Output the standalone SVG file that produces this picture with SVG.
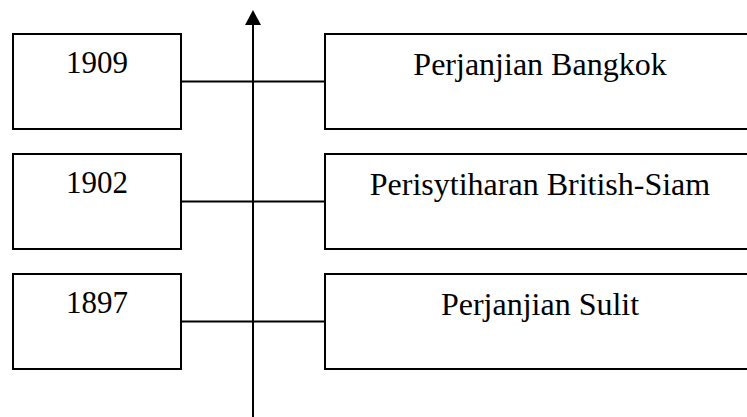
<svg xmlns="http://www.w3.org/2000/svg" width="747" height="417" viewBox="0 0 747 417">
<style>
.box{fill:#fff;stroke:#000;stroke-width:2}
.ln{stroke:#000;stroke-width:2;fill:none}
.t{font-family:"Liberation Serif","Times New Roman",serif;fill:#000;text-anchor:middle}
.l{font-size:31px}
.r{font-size:32px}
</style>
<rect width="747" height="417" fill="#fff"/>
<g id="connectors">
<line class="ln" x1="253" y1="24" x2="253" y2="417"/>
<polygon points="253,10 245,25 261,25" fill="#000"/>
<line class="ln" x1="181" y1="81.5" x2="325" y2="81.5"/>
<line class="ln" x1="181" y1="201.5" x2="325" y2="201.5"/>
<line class="ln" x1="181" y1="321.5" x2="325" y2="321.5"/>
</g>
<g id="y1909"><rect class="box" x="13" y="34" width="168" height="95"/><text class="t l" x="97" y="73">1909</text></g>
<g id="y1902"><rect class="box" x="13" y="154" width="168" height="95"/><text class="t l" x="97" y="193">1902</text></g>
<g id="y1897"><rect class="box" x="13" y="274" width="168" height="95"/><text class="t l" x="97" y="313">1897</text></g>
<g id="bangkok"><rect class="box" x="325" y="34" width="440" height="95"/><text class="t r" x="540" y="74.5">Perjanjian Bangkok</text></g>
<g id="perisytiharan"><rect class="box" x="325" y="154" width="440" height="95"/><text class="t r" x="540" y="194.5">Perisytiharan British-Siam</text></g>
<g id="sulit"><rect class="box" x="325" y="274" width="440" height="95"/><text class="t r" x="540" y="314.5">Perjanjian Sulit</text></g>
</svg>
